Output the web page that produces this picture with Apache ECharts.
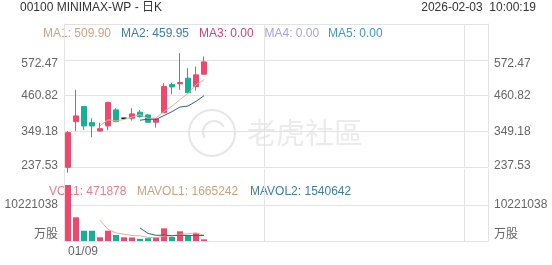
<!DOCTYPE html>
<html><head><meta charset="utf-8">
<script src="https://cdn.jsdelivr.net/npm/echarts@6/dist/echarts.min.js"></script>
<style>html,body{margin:0;padding:0;background:#fff}#c{width:552px;height:265px}</style>
</head><body><div id="c"></div>
<script>
// ---- data ----
const dates  = ['01/09','01/12','01/13','01/14','01/15','01/16','01/19','01/20','01/21','01/22','01/23','01/26','01/27','01/28','01/29','01/30','02/02','02/03'];
const opens  = [237.5, 379.9, 426.7, 376.8, 350.8, 366.4, 416.4, 390.5, 390.5, 409.2, 400.8, 378.0, 408.0, 495.4, 497.5, 515.3, 489.1, 527.8];
const closes = [345.5, 397.7, 366.4, 366.4, 358.0, 439.2, 379.9, 390.5, 403.9, 395.5, 378.0, 388.3, 489.1, 488.0, 501.6, 470.0, 525.6, 566.0];
const lows   = [220.6, 350.8, 354.0, 331.2, 348.7, 353.0, 378.0, 390.5, 383.0, 392.4, 376.8, 361.1, 406.1, 465.4, 478.8, 468.5, 476.6, 525.6];
const highs  = [350.8, 478.8, 428.9, 390.5, 376.8, 442.3, 421.7, 390.5, 421.7, 416.4, 403.0, 390.5, 499.7, 501.6, 593.4, 546.6, 551.6, 582.8];
const volumes = [15900000, 6730000, 2920000, 2920000, 1050000, 2920000, 1700000, 1050000, 1000000, 620000, 800000, 1050000, 3600000, 1150000, 2750000, 1650000, 2300000, 471878];
const ma1 = [null, null, null, null, 366.8, 385.5, 382.0, 386.8, 394.3, 401.8, 389.6, 391.2, 411.0, 427.8, 449.0, 467.4, 494.9, 510.2];
const ma2 = [null, null, null, null, null, null, null, null, null, 384.3, 387.6, 386.6, 398.9, 411.0, 425.4, 428.5, 443.1, 460.6];
const mavol1 = [null, null, null, null, 5904000, 3308000, 2302000, 1928000, 1544000, 1458000, 1034000, 904000, 1414000, 1444000, 1870000, 2040000, 2290000, 1664000];
const mavol2 = [null, null, null, null, null, null, null, null, null, 3681000, 2171000, 1603000, 1671000, 1494000, 1664000, 1537000, 1597000, 1539000];
const priceTicks = [237.53, 349.18, 460.82, 572.47];
const volTicks = [0, 10221038];
const volZeroLabel = '万股';
const maLegend = ['MA1: 509.90', 'MA2: 459.95', 'MA3: 0.00', 'MA4: 0.00', 'MA5: 0.00'];
const volLegend = ['VOL1: 471878', 'MAVOL1: 1665242', 'MAVOL2: 1540642'];
const titleText = '00100 MINIMAX-WP - 日K';
const timeText = '2026-02-03  10:00:19';
const emptySlots = 35;

// ---- styling ----
const UP = '#f2466c', DOWN = '#15b196';
const FONT = "'Liberation Sans', Arial, 'Noto Sans CJK SC', sans-serif";
const LBL = '#666';
const GRIDC = '#e3e3e3';

const cats = dates.concat(new Array(emptySlots).fill(''));
const pInt = (priceTicks[3] - priceTicks[0]) / 3;
const pMin = priceTicks[0], pMax = pMin + 4 * pInt;
const vInt = volTicks[1], vMax = 2 * volTicks[1];

function priceFmt(v) {
  let best = priceTicks[0];
  priceTicks.forEach(t => { if (Math.abs(t - v) < Math.abs(best - v)) best = t; });
  if (Math.abs(best - v) > 1) return '';
  if (best === priceTicks[3]) return '{t|' + best.toFixed(2) + '}';
  if (best === priceTicks[0]) return '{b|' + best.toFixed(2) + '}';
  return best.toFixed(2);
}
function volFmt(v) {
  if (v === 0) return volZeroLabel;
  if (Math.abs(v - volTicks[1]) < 1) return String(volTicks[1]);
  return '';
}
const richP = { t: { padding: [8, 0, 0, 0], color: LBL, fontSize: 12, fontFamily: FONT }, b: { padding: [0, 0, 3, 0], color: LBL, fontSize: 12, fontFamily: FONT } };

const xSplit = { show: true, interval: 24, lineStyle: { color: GRIDC, width: 1 } };

const candleData = dates.map((d, i) => [opens[i], closes[i], lows[i], highs[i]]);
const volData = volumes.map((v, i) => {
  let up = closes[i] > opens[i] || (closes[i] === opens[i] && (i === 0 || closes[i] >= closes[i - 1]));
  return { value: v, itemStyle: { color: up ? UP : DOWN } };
});

function yAx(grid, pos, isPrice) {
  const lbl = {
    show: true, color: LBL, fontSize: 12, fontFamily: FONT, margin: 6,
    showMaxLabel: false,
    formatter: isPrice ? priceFmt : volFmt
  };
  if (isPrice) lbl.rich = richP; else lbl.verticalAlignMinLabel = 'bottom';
  return {
    type: 'value', gridIndex: grid, position: pos,
    min: isPrice ? pMin : 0, max: isPrice ? pMax : vMax, interval: isPrice ? pInt : vInt,
    axisLine: { show: true, lineStyle: { color: GRIDC } },
    axisTick: { show: false },
    splitLine: { show: pos === 'left', showMaxLine: false, showMinLine: true, lineStyle: { color: GRIDC, width: 1 } },
    axisLabel: lbl
  };
}

const chart = echarts.init(document.getElementById('c'), null, { renderer: 'canvas' });
chart.setOption({
  animation: false,
  backgroundColor: '#fff',
  grid: [
    { left: 64, right: 64, top: 24, height: 143.3 },
    { left: 64, right: 64, top: 169, height: 72 }
  ],
  xAxis: [
    { type: 'category', gridIndex: 0, data: cats, boundaryGap: true,
      axisLine: { show: false }, axisTick: { show: false }, axisLabel: { show: false }, splitLine: xSplit },
    { type: 'category', gridIndex: 1, data: cats, boundaryGap: true,
      axisLine: { show: true, lineStyle: { color: GRIDC } }, axisTick: { show: false },
      axisLabel: { show: true, interval: (i) => i === 0, color: LBL, fontSize: 12, fontFamily: FONT, margin: 5, align: 'left' },
      splitLine: xSplit }
  ],
  yAxis: [yAx(0, 'left', true), yAx(0, 'right', true), yAx(1, 'left', false), yAx(1, 'right', false)],
  graphic: [
    { type: 'circle', shape: { cx: 212, cy: 133, r: 23 }, style: { fill: 'none', stroke: '#e6e6e6', lineWidth: 2 }, z: -5, silent: true },
    { type: 'arc', shape: { cx: 214, cy: 132, r: 11, startAngle: 2.6, endAngle: 5.8 }, style: { fill: 'none', stroke: '#e6e6e6', lineWidth: 2 }, z: -5, silent: true },
    { type: 'text', x: 247, y: 133, style: { text: '老虎社區', font: "29px 'Noto Sans CJK SC', sans-serif", fill: '#ebebeb', verticalAlign: 'middle' }, z: -5, silent: true },
    { type: 'text', x: 20, y: 8, style: { text: titleText, font: '12px ' + FONT, fill: '#333', verticalAlign: 'middle' } },
    { type: 'text', x: 536, y: 8, style: { text: timeText, font: '12px ' + FONT, fill: '#333', align: 'right', verticalAlign: 'middle' } },
    { type: 'text', x: 43, y: 34, style: { text: maLegend[0], font: '12px ' + FONT, fill: '#cfa27f', verticalAlign: 'middle' } },
    { type: 'text', x: 121, y: 34, style: { text: maLegend[1], font: '12px ' + FONT, fill: '#3c7fa3', verticalAlign: 'middle' } },
    { type: 'text', x: 199, y: 34, style: { text: maLegend[2], font: '12px ' + FONT, fill: '#c9437a', verticalAlign: 'middle' } },
    { type: 'text', x: 264.5, y: 34, style: { text: maLegend[3], font: '12px ' + FONT, fill: '#a3a3e8', verticalAlign: 'middle' } },
    { type: 'text', x: 328, y: 34, style: { text: maLegend[4], font: '12px ' + FONT, fill: '#3d98d0', verticalAlign: 'middle' } },
    { type: 'text', x: 49, y: 191.5, style: { text: volLegend[0], font: '12px ' + FONT, fill: '#ee7a86', verticalAlign: 'middle' } },
    { type: 'text', x: 137, y: 191.5, style: { text: volLegend[1], font: '12px ' + FONT, fill: '#cfa27f', verticalAlign: 'middle' } },
    { type: 'text', x: 250, y: 191.5, style: { text: volLegend[2], font: '12px ' + FONT, fill: '#3c7fa3', verticalAlign: 'middle' } }
  ],
  series: [
    { type: 'candlestick', xAxisIndex: 0, yAxisIndex: 0, data: candleData, barWidth: 5,
      itemStyle: { color: UP, color0: DOWN, borderColor: UP, borderColor0: DOWN, borderColorDoji: '#000', borderWidth: 1 } },
    { type: 'line', xAxisIndex: 0, yAxisIndex: 0, data: ma1, symbol: 'none', lineStyle: { color: '#dcb494', width: 1 } },
    { type: 'line', xAxisIndex: 0, yAxisIndex: 0, data: ma2, symbol: 'none', lineStyle: { color: '#2f668c', width: 1 } },
    { type: 'bar', xAxisIndex: 1, yAxisIndex: 2, data: volData, barWidth: 6 },
    { type: 'line', xAxisIndex: 1, yAxisIndex: 2, data: mavol1, symbol: 'none', lineStyle: { color: '#dcb494', width: 1 } },
    { type: 'line', xAxisIndex: 1, yAxisIndex: 2, data: mavol2, symbol: 'none', lineStyle: { color: '#2f668c', width: 1 } }
  ]
});
</script></body></html>
